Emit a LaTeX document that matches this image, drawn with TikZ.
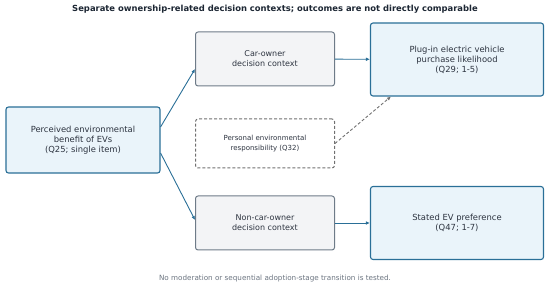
\documentclass[tikz,border=0pt]{standalone}
\usepackage{fontspec}
\setmainfont{DejaVu Sans}
\usepackage{xcolor}
\usetikzlibrary{arrows.meta,positioning}
\definecolor{pathblue}{HTML}{2A6F97}
\definecolor{pathfill}{HTML}{EAF4FA}
\definecolor{ctxgray}{HTML}{6E7B88}
\definecolor{ctxfill}{HTML}{F3F4F6}
\definecolor{modgray}{HTML}{707070}
\definecolor{txtdark}{HTML}{2D3440}
\definecolor{txtnote}{HTML}{6B7480}
\definecolor{titlenavy}{HTML}{1C2633}
\tikzset{
  varbox/.style={rectangle,rounded corners=2.5pt,draw=pathblue,fill=pathfill,line width=1.1pt,
    align=center,text=txtdark,inner sep=2pt,font=\fontsize{8.4}{10}\selectfont},
  ctxbox/.style={rectangle,rounded corners=2.5pt,draw=ctxgray,fill=ctxfill,line width=1pt,
    minimum width=139pt,minimum height=54pt,align=center,text=txtdark,font=\fontsize{8}{10}\selectfont},
  modbox/.style={ctxbox,draw=modgray,fill=white,dashed,dash pattern=on 3pt off 2pt,
    minimum height=49pt,font=\fontsize{7}{9.4}\selectfont},
  patharr/.style={-{Latex[length=4pt,width=3.6pt]},pathblue,line width=0.9pt},
  modarr/.style={-{Latex[length=4pt,width=3.6pt]},modgray,line width=0.9pt,dash pattern=on 3pt off 2pt},
}
\begin{document}
\begin{tikzpicture}[x=1pt,y=-1pt]
  \useasboundingbox (0,0) rectangle (550,288);
  \node[font=\fontsize{8.4}{10}\selectfont\bfseries,text=titlenavy] (title) at (275,9)
    {Separate ownership-related decision contexts; outcomes are not directly comparable};
  \node[varbox,minimum width=154pt,minimum height=66pt] (perc) at (83,140)
    {Perceived environmental\\benefit of EVs\\(Q25; single item)};
  \node[ctxbox] (owner) at (265,59) {Car-owner\\decision context};
  \node[modbox] (resp) at (265,143.5) {Personal environmental\\responsibility (Q32)};
  \node[ctxbox] (nonowner) at (265,223) {Non-car-owner\\decision context};
  \node[varbox,minimum width=173pt,minimum height=73pt] (phev) at (457,59.5)
    {Plug-in electric vehicle\\purchase likelihood\\(Q29; 1-5)};
  \node[varbox,minimum width=173pt,minimum height=73pt] (pref) at (457,223)
    {Stated EV preference\\(Q47; 1-7)};
  \node[font=\fontsize{7.2}{8}\selectfont,text=txtnote] (note) at (275,279)
    {No moderation or sequential adoption-stage transition is tested.};
  % paths
  \draw[patharr] ([yshift=13pt]perc.east) -- ([yshift=-10pt]owner.west);
  \draw[patharr] ([yshift=-13pt]perc.east) -- ([yshift=3pt]nonowner.west);
  \draw[patharr] (owner) -- (phev);
  \draw[patharr] (nonowner) -- (pref);
  \draw[modarr] (resp.east) -- ([xshift=21pt]phev.south west);
\end{tikzpicture}
\end{document}
